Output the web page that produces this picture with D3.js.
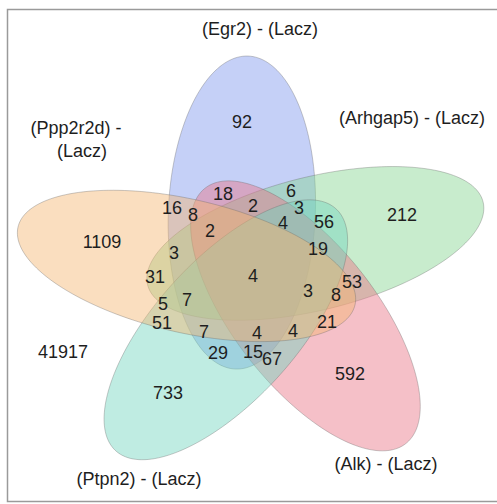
<!DOCTYPE html>
<html lang="en">
<head>
<meta charset="UTF-8">
<title>venn-five</title>
<script src="https://cdn.jsdelivr.net/npm/d3@7"></script>
<style>
  body { margin: 0; background: #fff; }
  text { font-family: "Liberation Sans", Arial, sans-serif; }
</style>
</head>
<body>
<svg id="venn" width="497" height="504"></svg>
<script>
  // sets, in petal order: Egr2, Arhgap5, Alk, Ptpn2, Ppp2r2d
  const setNames = ["(Egr2) - (Lacz)", "(Arhgap5) - (Lacz)", "(Alk) - (Lacz)", "(Ptpn2) - (Lacz)", "(Ppp2r2d) - (Lacz)"];

  // counts of each region as printed on the picture
  const regionCounts = [92, 212, 592, 733, 1109,
    18, 6, 16, 8, 2, 3, 2, 4, 56, 3, 19, 31, 4, 53, 3, 8, 5, 7, 51, 21, 7, 4, 4, 29, 15, 67];
  const outsideCount = 41917;

  // ---- layout (diagram units, flower centre at 0,0) ----
  const labelSpots = [[-13, -169], [147, -65], [95, 111], [-87, 132], [-153, -35],
    [-32, -89], [36, -92], [-83, -73], [-62, -65], [-2, -75], [44, -73], [-45, -48], [28, -56], [69, -58],
    [-81, -23], [63, -28], [-100, 4], [-2, 2], [97, 9], [53, 19], [81, 24], [-92, 33], [-68, 29],
    [-93, 55], [72, 53], [-51, 65], [2, 66], [38, 64], [-37, 88], [-2, 87], [17, 95]];
  const outsideSpot = [-192, 87];
  const titleSpots = [[5, -272], [157, -173], [131, 211], [-116, 228], [-173, -162]];

  const petal = { dist: 69, a: 174, b: 73.5, start: -101, tilt: [13, 13, 13, 13, 8] };
  const petalColors = ["#7e97ed", "#85d590", "#e87485", "#70d5bf", "#f4b572"];

  const W = 497, H = 504;
  const x = d3.scaleLinear().domain([-255, W - 255]).range([0, W]);
  const y = d3.scaleLinear().domain([-273.5 / 0.9, (H - 273.5) / 0.9]).range([0, H]);

  const svg = d3.select("#venn");

  svg.append("rect")
    .attr("x", 7.5).attr("y", 9.5)
    .attr("width", W).attr("height", 492)
    .attr("fill", "none")
    .attr("stroke", "#9a9a9a")
    .attr("stroke-width", 1.5);

  function ellipsePoints(i) {
    const rad = Math.PI / 180;
    const phi = (petal.start + 72 * i) * rad;
    const rot = phi + petal.tilt[i] * rad;
    const cx = petal.dist * Math.cos(phi), cy = petal.dist * Math.sin(phi);
    return d3.range(0, 360, 2).map(deg => {
      const t = deg * rad;
      const ca = petal.a * Math.cos(t), sb = petal.b * Math.sin(t);
      return [cx + ca * Math.cos(rot) - sb * Math.sin(rot), cy + ca * Math.sin(rot) + sb * Math.cos(rot)];
    });
  }

  const line = d3.line()
    .x(p => x(p[0]))
    .y(p => y(p[1]))
    .curve(d3.curveLinearClosed);

  svg.append("g")
    .selectAll("path")
    .data(setNames)
    .join("path")
    .attr("d", (d, i) => line(ellipsePoints(i)))
    .attr("fill", (d, i) => petalColors[i])
    .attr("fill-opacity", 0.45)
    .attr("stroke", "#666")
    .attr("stroke-opacity", 0.35)
    .attr("stroke-width", 1);

  const numbers = svg.append("g")
    .attr("font-size", 18)
    .attr("fill", "#1e1e1e")
    .attr("text-anchor", "middle");

  numbers.selectAll("text.count")
    .data(regionCounts)
    .join("text")
    .attr("class", "count")
    .attr("x", (d, i) => x(labelSpots[i][0]))
    .attr("y", (d, i) => y(labelSpots[i][1]))
    .attr("dy", "0.35em")
    .text(d => d);

  numbers.append("text")
    .attr("x", x(outsideSpot[0]))
    .attr("y", y(outsideSpot[1]))
    .attr("dy", "0.35em")
    .text(outsideCount);

  // titles; the Ppp2r2d one is broken over two lines
  const titles = svg.append("g")
    .attr("font-size", 18)
    .attr("fill", "#1e1e1e")
    .attr("text-anchor", "middle");

  setNames.forEach((name, i) => {
    const t = titles.append("text")
      .attr("x", x(titleSpots[i][0]))
      .attr("y", y(titleSpots[i][1]))
      .attr("dy", "0.35em");
    if (i === 4) {
      const parts = name.split(" - ");
      t.append("tspan").attr("x", x(titleSpots[i][0]) - 6).text(parts[0] + " -");
      t.append("tspan").attr("x", x(titleSpots[i][0])).attr("dy", "1.25em").text(parts[1]);
    } else {
      t.text(name);
    }
  });
</script>
</body>
</html>
